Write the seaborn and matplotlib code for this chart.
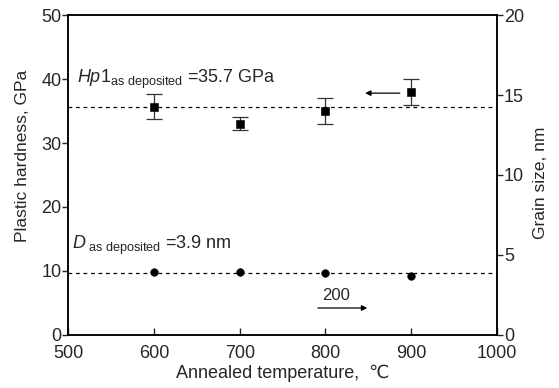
import numpy as np
import pandas as pd
import matplotlib
matplotlib.use("Agg")
import matplotlib.pyplot as plt
import seaborn as sns

temps = [600, 700, 800, 900]
hardness = [35.7, 33.0, 35.0, 38.0]
hardness_err = [2.0, 1.0, 2.0, 2.0]
grain = [3.95, 3.95, 3.85, 3.65]
hp_asdep = 35.7
d_asdep = 3.9

sns.set_theme(style="ticks")
plt.rcParams['font.family'] = ['Liberation Sans', 'DejaVu Sans']
plt.rcParams['mathtext.fontset'] = 'custom'
plt.rcParams['mathtext.rm'] = 'Liberation Sans'
plt.rcParams['mathtext.it'] = 'Liberation Sans:italic'

df = pd.DataFrame({'T': temps, 'H': hardness, 'err': hardness_err, 'D': grain})

fig, ax = plt.subplots(figsize=(5.59, 3.88), dpi=100)
fig.subplots_adjust(left=0.122, right=0.889, top=0.961, bottom=0.137)

ax.errorbar(df['T'], df['H'], yerr=df['err'], fmt='none', ecolor='#333333',
            elinewidth=0.9, capsize=6, capthick=0.9)
sns.scatterplot(data=df, x='T', y='H', marker='s', color='black', s=28,
                edgecolor='black', ax=ax, zorder=3)
ax.axhline(hp_asdep, color='black', ls=(0, (3, 3)), lw=0.9)
ax.set_xlim(500, 1000)
ax.set_ylim(0, 50)
ax.set_xticks([500, 600, 700, 800, 900, 1000])
ax.set_yticks([0, 10, 20, 30, 40, 50])
ax.set_xlabel('Annealed temperature,  \u2103', fontsize=13, labelpad=2)
ax.set_ylabel('Plastic hardness, GPa', fontsize=12.5)
ax.yaxis.set_label_coords(-0.088, 0.56)
ax.tick_params(axis='y', labelsize=13, length=4, width=1, direction='out', pad=1)
ax.tick_params(axis='x', labelsize=13, length=5, width=1, direction='in', pad=7.5)

ax2 = ax.twinx()
sns.scatterplot(data=df, x='T', y='D', marker='o', color='black', s=30,
                edgecolor='black', ax=ax2, zorder=3)
ax2.axhline(d_asdep, color='black', ls=(0, (3, 3)), lw=0.9)
ax2.set_ylim(0, 20)
ax2.set_yticks([0, 5, 10, 15, 20])
ax2.set_ylabel('Grain size, nm', fontsize=12.5)
ax2.yaxis.set_label_coords(1.085, 0.475)
ax2.tick_params(labelsize=13, length=4, width=1, direction='out', pad=1)
ax2.set_xlim(500, 1000)

for a in (ax, ax2):
    for sp in a.spines.values():
        sp.set_linewidth(1.1)
        sp.set_color('black')

ax.text(510, 40.0, r'$Hp1_{\mathrm{as\ deposited}}$ =35.7 GPa', fontsize=13,
        va='center', ha='left')
ax.text(505, 14.0, r'$D_{\mathrm{\ as\ deposited}}$ =3.9 nm', fontsize=13,
        va='center', ha='left')

ax.annotate('', xy=(843, 37.8), xytext=(890, 37.8),
            arrowprops=dict(arrowstyle='-|>', color='black', lw=0.9,
                            mutation_scale=8))
ax.annotate('', xy=(852, 4.2), xytext=(788, 4.2),
            arrowprops=dict(arrowstyle='-|>', color='black', lw=0.9,
                            mutation_scale=8))
ax.text(812, 6.2, '200', fontsize=12, ha='center', va='center')

fig.savefig('out.png', dpi=100)
